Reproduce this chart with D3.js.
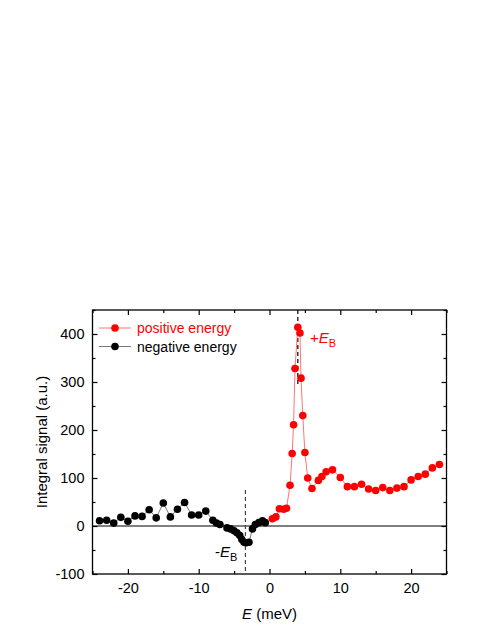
<!DOCTYPE html>
<html>
<head>
<meta charset="utf-8">
<script src="https://cdn.jsdelivr.net/npm/d3@7"></script>
<style>
  body { margin: 0; background: #fff; }
  svg { font-family: "Liberation Sans", Arial, sans-serif; }
</style>
</head>
<body>
<svg id="chart" width="491" height="635"></svg>
<script>
// negative energy series (black)
const negX = [-24, -23, -22, -21, -20, -19, -18, -17, -16, -15, -14, -13, -12, -11, -10, -9,
  -8, -7.5, -7, -6, -5.5, -5, -4.6, -4.2, -3.9, -3.6, -3.3, -2.9, -2.4, -2, -1.5, -1, -0.6];
const negY = [11, 12, 6, 18, 10, 21, 20, 34, 17, 48, 19, 35, 49, 23, 23, 31,
  12, 6, 3, -4, -6, -10, -14, -20, -28, -34, -35, -34, -6, 3, 7, 11, 7];

// positive energy series (red)
const posX = [0.4, 0.9, 1.4, 2.0, 2.4, 2.9, 3.2, 3.4, 3.6, 4.0, 4.3, 4.45, 4.7, 5.0, 5.4, 6.0,
  6.9, 7.4, 8, 8.9, 10, 11, 12, 13, 14, 15, 16, 17, 18, 19, 20, 21, 22, 23, 24];
const posY = [15, 19, 36, 35, 37, 85, 151, 211, 328, 414, 402, 308, 230, 153, 100, 78,
  95, 103, 113, 117, 101, 82, 82, 87, 77, 74, 80, 74, 79, 82, 96, 103, 108, 121, 128];

const xMajor = [-20, -10, 0, 10, 20];
const xMinor = [-25, -15, -5, 5, 15, 25];
const yMajor = [-100, 0, 100, 200, 300, 400];
const yMinor = [-50, 50, 150, 250, 350, 450];

const ebMinus = -3.4, ebPlus = 4.0;

const svg = d3.select("#chart");
const mLeft = 92.5, mRight = 446.5, mTop = 310, mBottom = 574;

const x = d3.scaleLinear().domain([-25, 25]).range([mLeft, mRight]);
const y = d3.scaleLinear().domain([-100, 450]).range([mBottom, mTop]);

// zero line
svg.append("line")
  .attr("x1", mLeft).attr("x2", mRight)
  .attr("y1", y(0)).attr("y2", y(0))
  .attr("stroke", "#000").attr("stroke-width", 1.2);

// dashed E_B markers
svg.append("line")
  .attr("x1", x(ebMinus)).attr("x2", x(ebMinus))
  .attr("y1", y(75)).attr("y2", y(-100))
  .attr("stroke", "#444").attr("stroke-width", 1.2).attr("stroke-dasharray", "4,3");
svg.append("line")
  .attr("x1", x(ebPlus)).attr("x2", x(ebPlus))
  .attr("y1", y(450)).attr("y2", y(295))
  .attr("stroke", "#000").attr("stroke-width", 1.2).attr("stroke-dasharray", "4,3");

const line = d3.line().x(d => x(d[0])).y(d => y(d[1]));
const neg = negX.map((v, i) => [v, negY[i]]);
const pos = posX.map((v, i) => [v, posY[i]]);

svg.append("path").datum(neg).attr("d", line)
  .attr("fill", "none").attr("stroke", "#555").attr("stroke-width", 0.8);
svg.append("path").datum(pos).attr("d", line)
  .attr("fill", "none").attr("stroke", "#ff5050").attr("stroke-width", 0.8);

svg.append("g").selectAll("circle").data(neg).enter().append("circle")
  .attr("cx", d => x(d[0])).attr("cy", d => y(d[1])).attr("r", 3.8).attr("fill", "#000");
svg.append("g").selectAll("circle").data(pos).enter().append("circle")
  .attr("cx", d => x(d[0])).attr("cy", d => y(d[1])).attr("r", 3.8).attr("fill", "#ff0000");

// axes: ticks inward, labels on bottom and left
const fontSize = 14.5;

const gB = svg.append("g").attr("transform", `translate(0,${mBottom})`);
gB.call(d3.axisBottom(x).tickValues(xMajor).tickSize(-5).tickPadding(9).tickFormat(d => String(d)));
gB.append("g").call(d3.axisBottom(x).tickValues(xMinor).tickSize(-3).tickFormat(""));

const gT = svg.append("g").attr("transform", `translate(0,${mTop})`);
gT.call(d3.axisTop(x).tickValues(xMajor).tickSize(-5).tickFormat(""));
gT.append("g").call(d3.axisTop(x).tickValues(xMinor).tickSize(-3).tickFormat(""));

const gL = svg.append("g").attr("transform", `translate(${mLeft},0)`);
gL.call(d3.axisLeft(y).tickValues(yMajor).tickSize(-5).tickPadding(8).tickFormat(d => String(d)));
gL.append("g").call(d3.axisLeft(y).tickValues(yMinor).tickSize(-3).tickFormat(""));

const gR = svg.append("g").attr("transform", `translate(${mRight},0)`);
gR.call(d3.axisRight(y).tickValues(yMajor).tickSize(-5).tickFormat(""));
gR.append("g").call(d3.axisRight(y).tickValues(yMinor).tickSize(-3).tickFormat(""));

svg.selectAll(".domain").remove();
svg.selectAll(".tick line").attr("stroke", "#000").attr("stroke-width", 1.2);
svg.selectAll(".tick text").attr("font-size", fontSize).attr("fill", "#000")
  .attr("font-family", "'Liberation Sans', Arial, sans-serif");

// frame
svg.append("rect")
  .attr("x", mLeft).attr("y", mTop)
  .attr("width", mRight - mLeft).attr("height", mBottom - mTop)
  .attr("fill", "none").attr("stroke", "#000").attr("stroke-width", 1.3);

// axis titles
svg.append("text")
  .attr("transform", `translate(47,${(mTop + mBottom) / 2}) rotate(-90)`)
  .attr("text-anchor", "middle").attr("font-size", 15)
  .text("Integral signal (a.u.)");

const xt = svg.append("text")
  .attr("x", x(0)).attr("y", 619)
  .attr("text-anchor", "middle").attr("font-size", 15);
xt.append("tspan").attr("font-style", "italic").text("E");
xt.append("tspan").text(" (meV)");

// E_B labels
const lp = svg.append("text").attr("x", 310).attr("y", 343)
  .attr("font-size", 15).attr("fill", "#ff0000");
lp.append("tspan").text("+");
lp.append("tspan").attr("font-style", "italic").text("E");
lp.append("tspan").attr("font-size", 11).attr("dy", 4).text("B");

const lm = svg.append("text").attr("x", 215).attr("y", 557)
  .attr("font-size", 15).attr("fill", "#000");
lm.append("tspan").text("-");
lm.append("tspan").attr("font-style", "italic").text("E");
lm.append("tspan").attr("font-size", 11).attr("dy", 4).text("B");

// legend
const legend = [
  { name: "positive energy", color: "#ff0000", line: "#ff5050" },
  { name: "negative energy", color: "#000", line: "#555" }
];
legend.forEach((d, i) => {
  const ly = 328 + i * 18.5;
  svg.append("line").attr("x1", 99).attr("x2", 131).attr("y1", ly).attr("y2", ly)
    .attr("stroke", d.line).attr("stroke-width", 0.8);
  svg.append("circle").attr("cx", 115).attr("cy", ly).attr("r", 3.8).attr("fill", d.color);
  svg.append("text").attr("x", 137).attr("y", ly + 5).attr("font-size", 14)
    .attr("fill", d.color).text(d.name);
});
</script>
</body>
</html>
